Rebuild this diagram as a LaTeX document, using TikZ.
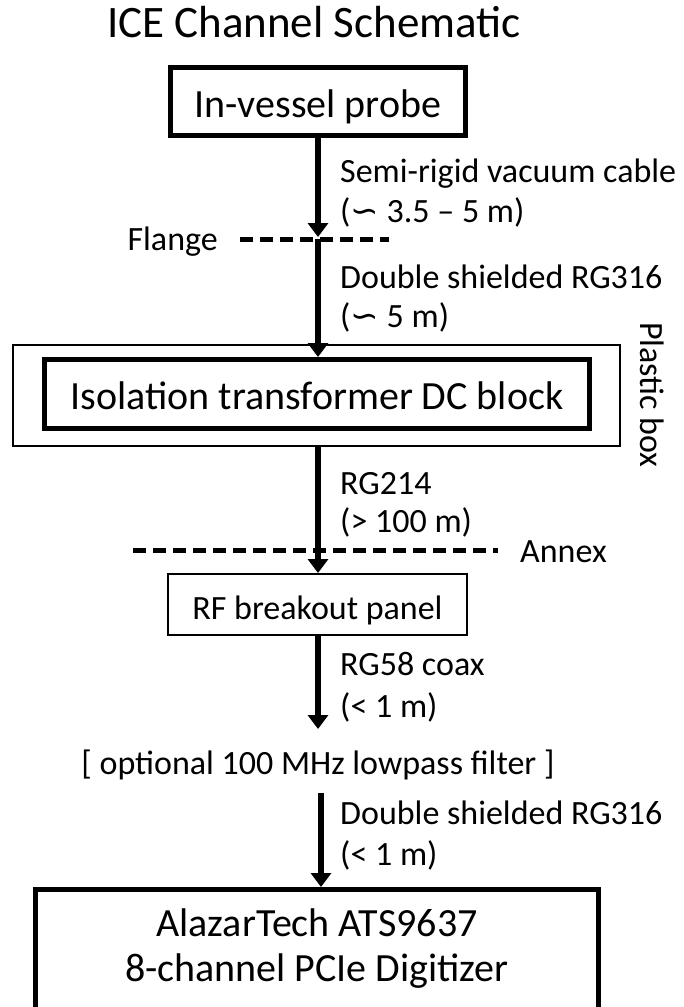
\documentclass[tikz,border=0pt]{standalone}
\usepackage{fontspec}
\setmainfont{Carlito}
\newfontfamily\dejavu{DejaVu Sans}
\usetikzlibrary{arrows.meta}
\begin{document}
\begin{tikzpicture}[x=1pt,y=-1pt,
  lbl/.style={anchor=base west, inner sep=0pt, font=\fontsize{34}{40}\selectfont},
  ctext/.style={anchor=base, inner sep=0pt},
  thickbox/.style={draw, line width=5pt, inner sep=0pt, text depth=0pt},
  thinbox/.style={draw, line width=2pt, inner sep=0pt, text depth=0pt},
  conn/.style={line width=5.5pt, -{Triangle[width=20pt,length=14pt]}},
  sepline/.style={line width=5pt, dash pattern=on 12.5pt off 7.5pt},
  big/.style={font=\fontsize{40}{46}\selectfont},
  mid/.style={font=\fontsize{34}{40}\selectfont}]
\useasboundingbox (0,0) rectangle (683,1007);
\clip (0,0) rectangle (683,1007);

% title
\node[ctext, font=\fontsize{45}{52}\selectfont] (title) at (314,37) {ICE Channel Schematic};

% boxes
\node[thickbox, big, minimum width=295pt, minimum height=68pt, text height=31pt] (probe) at (318,101.5) {In-vessel probe};
\node[thinbox, minimum width=607pt, minimum height=101pt] (plastic) at (316.5,395.5) {};
\node[thickbox, big, minimum width=545pt, minimum height=69pt, text height=30pt] (iso) at (317,394) {Isolation transformer DC block};
\node[thinbox, mid, minimum width=299pt, minimum height=61pt, text height=29pt] (rf) at (317.5,604.5) {RF breakout panel};
\node[thickbox, minimum width=563pt, minimum height=141pt] (dig) at (317,960) {};
\node[ctext, big] (digA) at (317,936) {AlazarTech ATS9637};
\node[ctext, big] (digB) at (317,981) {8-channel PCIe Digitizer};
\node[ctext, mid] (filter) at (318,774) {[ optional 100 MHz lowpass filter ]};

% boundaries
\coordinate (flange) at (318,239);
\coordinate (flL) at (240,239);
\coordinate (flR) at (389,239);
\draw[sepline] (flL) -- (flR);
\node[anchor=base east, inner sep=0pt, mid] (flangelbl) at (218,250) {Flange};
\coordinate (anL) at (133,550);
\coordinate (anR) at (498,550);
\draw[sepline] (anL) -- (anR);
\node[lbl] (annexlbl) at (520,562) {Annex};
\node[mid, rotate=-90, inner sep=0pt] (plasticlbl) at (652,395) {Plastic box};

% connectors
\coordinate (filtin) at (318,729);
\coordinate (filtout) at (321,793);
\draw[conn, shorten >=2pt] (probe.south) -- (flange);
\draw[conn] (flange) -- (flange |- iso.north);
\draw[conn] (probe.south |- plastic.south) -- (probe.south |- rf.north);
\draw[conn] (probe.south |- rf.south) -- (filtin);
\draw[conn] (filtout) -- (filtout |- dig.north);

% cable labels
\node[lbl] (l1a) at (340,182) {Semi-rigid vacuum cable};
\node[lbl] (l1b) at (340,222) {({\dejavu ∽} 3.5 – 5 m)};
\node[lbl] (l2a) at (340,288) {Double shielded RG316};
\node[lbl] (l2b) at (340,327) {({\dejavu ∽} 5 m)};
\node[lbl] (l3a) at (340,494) {RG214};
\node[lbl] (l3b) at (340,532) {(> 100 m)};
\node[lbl] (l4a) at (340,675) {RG58 coax};
\node[lbl] (l4b) at (340,717) {(< 1 m)};
\node[lbl] (l5a) at (340,824) {Double shielded RG316};
\node[lbl] (l5b) at (340,865) {(< 1 m)};
\end{tikzpicture}
\end{document}
